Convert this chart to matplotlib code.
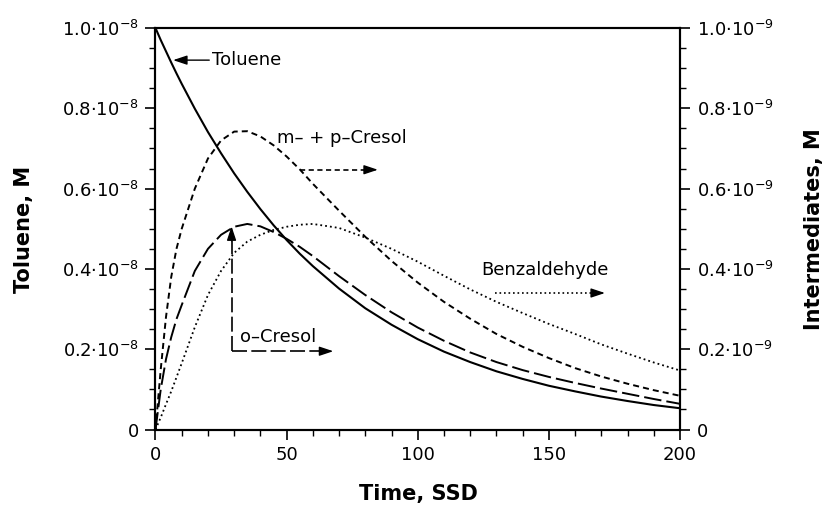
import numpy as np
import matplotlib
matplotlib.use('Agg')
import matplotlib.pyplot as plt
from matplotlib.ticker import MultipleLocator

plt.rcParams['font.family'] = ['DejaVu Sans']
plt.rcParams['mathtext.default'] = 'regular'

# time axis (SSD)
time = [0, 2, 4, 6, 8, 10, 15, 20, 25, 30, 35, 40, 45, 50, 55, 60, 70, 80, 90, 100,
        110, 120, 130, 140, 150, 160, 170, 180, 190, 200]
# toluene, units of 1e-8 M
toluene = [1.0, 0.970, 0.942, 0.914, 0.887, 0.861, 0.799, 0.741, 0.688, 0.638,
           0.592, 0.549, 0.509, 0.472, 0.438, 0.407, 0.351, 0.302, 0.261, 0.225,
           0.194, 0.168, 0.145, 0.126, 0.109, 0.095, 0.082, 0.071, 0.061, 0.053]
# intermediates, units of 1e-9 M
mp_cresol = [0, 0.15, 0.28, 0.38, 0.45, 0.50, 0.60, 0.675, 0.72, 0.742,
             0.743, 0.73, 0.708, 0.68, 0.648, 0.612, 0.545, 0.48, 0.42, 0.366,
             0.318, 0.276, 0.238, 0.206, 0.178, 0.153, 0.132, 0.114, 0.098, 0.084]
o_cresol = [0, 0.10, 0.175, 0.23, 0.275, 0.31, 0.395, 0.45, 0.485, 0.505,
            0.512, 0.506, 0.492, 0.475, 0.455, 0.432, 0.382, 0.335, 0.292, 0.254,
            0.221, 0.192, 0.168, 0.148, 0.131, 0.116, 0.102, 0.089, 0.076, 0.064]
benzaldehyde = [0, 0.03, 0.063, 0.095, 0.13, 0.165, 0.255, 0.335, 0.395, 0.44,
                0.468, 0.485, 0.497, 0.505, 0.51, 0.512, 0.502, 0.478, 0.45, 0.418,
                0.383, 0.349, 0.318, 0.29, 0.263, 0.238, 0.212, 0.189, 0.167, 0.147]

left_ticks = [0, 0.2, 0.4, 0.6, 0.8, 1.0]
left_labels = ['0'] + ['%.1f·10$^{-8}$' % v for v in left_ticks[1:]]
right_labels = ['0'] + ['%.1f·10$^{-9}$' % v for v in left_ticks[1:]]

short_dash = (3.1, 2.1)
long_dash = (9.0, 2.6)
dot = (1.0, 1.7)
fs = 13

fig = plt.figure(figsize=(8.28, 5.15), dpi=100)
ax = fig.add_axes([0.1878, 0.166, 0.6334, 0.7796])
ax2 = ax.twinx()

t = np.array(time)
ax.plot(t, np.array(toluene) * 1e-8, color='k', lw=1.5)
ax2.plot(t, np.array(mp_cresol) * 1e-9, color='k', lw=1.4, dashes=short_dash)
ax2.plot(t, np.array(o_cresol) * 1e-9, color='k', lw=1.4, dashes=long_dash)
ax2.plot(t, np.array(benzaldehyde) * 1e-9, color='k', lw=1.3, dashes=dot)

ax.set_xlim(0, 200)
ax.set_ylim(0, 1e-8)
ax2.set_ylim(0, 1e-9)

ax.xaxis.set_major_locator(MultipleLocator(50))
ax.xaxis.set_minor_locator(MultipleLocator(10))
ax.set_yticks([v * 1e-8 for v in left_ticks])
ax.set_yticklabels(left_labels)
ax.yaxis.set_minor_locator(MultipleLocator(0.05e-8))
ax2.set_yticks([v * 1e-9 for v in left_ticks])
ax2.set_yticklabels(right_labels)
ax2.yaxis.set_minor_locator(MultipleLocator(0.05e-9))

for a in (ax, ax2):
    a.tick_params(which='major', direction='out', length=7, width=1.2, labelsize=fs)
    a.tick_params(which='minor', direction='out', length=4, width=1.0)
    for s in a.spines.values():
        s.set_linewidth(1.5)
ax.tick_params(axis='x', pad=5)
ax.tick_params(axis='y', pad=5)
ax2.tick_params(axis='y', pad=5)

# axis titles
fig.text(418 / 828, 1 - 494 / 515, 'Time, SSD', fontsize=15, fontweight='bold',
         ha='center', va='center')
fig.text(24 / 828, 1 - 229 / 515, 'Toluene, M', fontsize=15, fontweight='bold',
         ha='center', va='center', rotation=90)
fig.text(814 / 828, 1 - 229 / 515, 'Intermediates, M', fontsize=15, fontweight='bold',
         ha='center', va='center', rotation=90)

head = dict(arrowstyle='-|>,head_length=0.6,head_width=0.2', color='k', lw=1.0,
            mutation_scale=14, shrinkA=0, shrinkB=0)

def arrow_head(a, tip, back):
    a.annotate('', xy=tip, xytext=back, arrowprops=head)

# Toluene label
ax.annotate('', xy=(6.7, 0.92e-8), xytext=(20.5, 0.92e-8), arrowprops=head)
ax.text(21.5, 0.92e-8, 'Toluene', fontsize=fs, va='center', ha='left')

# m- + p-Cresol label
ax2.text(46.2, 0.725e-9, 'm– + p–Cresol', fontsize=fs, va='center', ha='left')
ax2.plot([55, 82.5], [0.647e-9, 0.647e-9], color='k', lw=1.2, dashes=short_dash)
arrow_head(ax2, (84.8, 0.647e-9), (81.5, 0.647e-9))

# o-Cresol label
ax2.plot([29, 29], [0.195e-9, 0.49e-9], color='k', lw=1.2, dashes=long_dash)
arrow_head(ax2, (29, 0.506e-9), (29, 0.47e-9))
ax2.plot([29, 65], [0.195e-9, 0.195e-9], color='k', lw=1.2, dashes=long_dash)
arrow_head(ax2, (67.8, 0.195e-9), (64.5, 0.195e-9))
ax2.text(32.2, 0.231e-9, 'o–Cresol', fontsize=fs, va='center', ha='left')

# Benzaldehyde label
ax2.text(124.3, 0.398e-9, 'Benzaldehyde', fontsize=fs, va='center', ha='left')
ax2.plot([129.5, 168.5], [0.34e-9, 0.34e-9], color='k', lw=1.2, dashes=dot)
arrow_head(ax2, (171.4, 0.34e-9), (168, 0.34e-9))

fig.savefig('out.png', dpi=100)
